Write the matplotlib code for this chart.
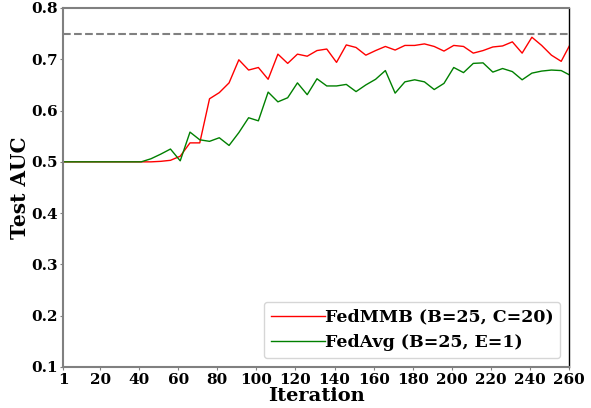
import numpy as np
import matplotlib
matplotlib.use("Agg")
import matplotlib.pyplot as plt

# iterations sampled every 5 rounds (last one is clipped by the x-limit)
iterations = list(range(1, 262, 5))

fedmmb = [0.500, 0.500, 0.500, 0.500, 0.500, 0.500, 0.500, 0.500, 0.500, 0.500,
          0.501, 0.503, 0.511, 0.537, 0.537, 0.623, 0.635, 0.654, 0.699, 0.679,
          0.684, 0.661, 0.710, 0.692, 0.710, 0.706, 0.717, 0.720, 0.694, 0.728,
          0.723, 0.708, 0.717, 0.725, 0.718, 0.727, 0.727, 0.730, 0.725, 0.716,
          0.727, 0.725, 0.712, 0.717, 0.724, 0.726, 0.734, 0.712, 0.743, 0.727,
          0.708, 0.696, 0.732]

fedavg = [0.500, 0.500, 0.500, 0.500, 0.500, 0.500, 0.500, 0.500, 0.500, 0.506,
          0.515, 0.525, 0.502, 0.558, 0.543, 0.540, 0.547, 0.532, 0.557, 0.586,
          0.580, 0.636, 0.617, 0.625, 0.654, 0.631, 0.662, 0.648, 0.648, 0.651,
          0.637, 0.650, 0.661, 0.678, 0.634, 0.656, 0.660, 0.656, 0.641, 0.653,
          0.684, 0.674, 0.692, 0.693, 0.675, 0.682, 0.676, 0.660, 0.673, 0.677,
          0.679, 0.678, 0.668]

target_auc = 0.75
xticks = [1] + list(range(20, 261, 20))
yticks = [0.1, 0.2, 0.3, 0.4, 0.5, 0.6, 0.7, 0.8]

plt.rcParams["font.family"] = "DejaVu Serif"
plt.rcParams["font.weight"] = "bold"

fig = plt.figure(figsize=(5.91, 4.08), dpi=100)
ax = fig.add_axes([0.1066, 0.1005, 0.8562, 0.8799])

ax.axhline(target_auc, color="gray", linestyle="--", linewidth=1.5)
ax.plot(iterations, fedmmb, color="red", linewidth=1.0, label="FedMMB (B=25, C=20)")
ax.plot(iterations, fedavg, color="green", linewidth=1.0, label="FedAvg (B=25, E=1)")

ax.set_xlim(1, 260)
ax.set_ylim(0.1, 0.8)
ax.set_xticks(xticks)
ax.set_yticks(yticks)
ax.set_yticklabels([f"{v:.1f}" for v in yticks])
ax.tick_params(labelsize=11, color="gray", length=2.5, pad=1.5)
for lbl in ax.get_xticklabels() + ax.get_yticklabels():
    lbl.set_fontweight("bold")

for side in ["left", "top", "bottom"]:
    ax.spines[side].set_color("gray")
    ax.spines[side].set_linewidth(1.5)
ax.spines["right"].set_color("black")
ax.spines["right"].set_linewidth(1.0)

ax.set_xlabel("Iteration", fontsize=14, fontweight="bold")
ax.set_ylabel("Test AUC", fontsize=14.5, fontweight="bold")
ax.xaxis.set_label_coords(0.5, -0.055)
ax.yaxis.set_label_coords(-0.066, 0.5)

ax.legend(loc="lower right", prop={"size": 12.5, "weight": "bold"}, handlelength=3.1,
          handletextpad=0.0, borderaxespad=0.5)

fig.savefig("out.png", dpi=100)
